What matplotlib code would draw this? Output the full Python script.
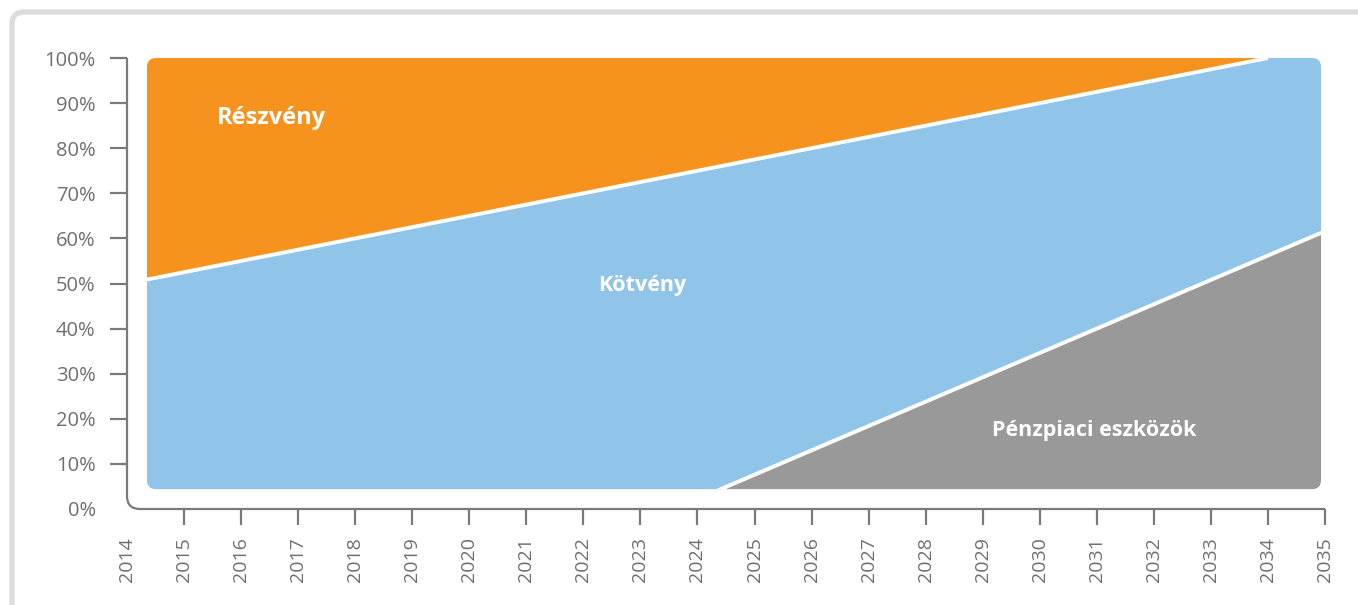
import numpy as np
import matplotlib
matplotlib.use("Agg")
import matplotlib.pyplot as plt
from matplotlib.patches import FancyBboxPatch, PathPatch
from matplotlib.path import Path
from matplotlib.transforms import IdentityTransform

# ============================ DATA ============================
years = np.arange(2014, 2036)
# share of each asset class (%)
reszveny = np.array([50, 47.5, 45, 42.5, 40, 37.5, 35, 32.5, 30, 27.5, 25,
                     22.5, 20, 17.5, 15, 12.5, 10, 7.5, 5, 2.5, 0, 0])
penzpiaci = np.array([0, 0, 0, 0, 0, 0, 0, 0, 0, 0, 2.2,
                      7.6, 13.0, 18.4, 23.8, 29.2, 34.6, 40.0, 45.4, 50.8, 56.2, 61.6])
kotveny = 100 - reszveny - penzpiaci

labels = ["Pénzpiaci eszközök", "Kötvény", "Részvény"]
colors = ["#999999", "#90c4e8", "#f5931e"]
label_pos = [(2030.96, 17.3), (2023.04, 49.6), (2016.54, 86.8)]
label_size = [15.5, 15.5, 17]

y_ticks = np.arange(0, 101, 10)
x_ticks = np.arange(2014, 2036)

# ============================ FIGURE ============================
W, H = 1358, 605
fig = plt.figure(figsize=(W / 100, H / 100), dpi=100)
ax = fig.add_axes([127 / W, (H - 509) / H, 1198 / W, 451 / H])
ax.set_xlim(2014, 2035)
ax.set_ylim(0, 100)

grey = "#7a7a7a"
font = "Open Sans"

# outer rounded frame
frame = FancyBboxPatch((12, -40), W + 40, H - 12 + 40,
                       boxstyle="round,pad=0,rounding_size=12",
                       transform=IdentityTransform(), fill=False,
                       ec="#dcdcdc", lw=3.8, clip_on=False)
fig.add_artist(frame)

# rounded clip box for the area (plot inset)
x0, x1, y0, y1 = 2014.35, 2034.93, 4.4, 100
rx = 9 / 57.05
ry = 9 / 4.515
clip_box = FancyBboxPatch((x0, y0), x1 - x0, y1 - y0,
                          boxstyle=f"round,pad=0,rounding_size={rx}",
                          mutation_aspect=ry / rx, transform=ax.transData)

polys = ax.stackplot(years, penzpiaci, kotveny, reszveny, colors=colors, lw=0)
for p in polys:
    p.set_clip_path(clip_box)

# white separator lines
b1 = penzpiaci
b2 = penzpiaci + kotveny
start = np.where(penzpiaci == 0)[0][-1]
stop = np.argmax(reszveny == 0) + 1
l1, = ax.plot(years[start:], b1[start:], color="white", lw=2.8, solid_capstyle="butt")
l2, = ax.plot(years[:stop], b2[:stop], color="white", lw=2.8, solid_capstyle="butt")
for l in (l1, l2):
    l.set_clip_path(clip_box)

for (x, y), t, fs in zip(label_pos, labels, label_size):
    ax.text(x, y, t, ha="center", va="center", color="white",
            fontsize=fs, fontweight="bold", family=font)

# ============================ AXES ============================
for s in ax.spines.values():
    s.set_visible(False)

xa, xb = ax.get_xlim()
ya, yb = ax.get_ylim()
cr_x = 13 / 57.05
cr_y = 13 / 4.515
verts = [(xa, yb), (xa, ya + cr_y), (xa, ya), (xa + cr_x, ya), (xb, ya)]
codes = [Path.MOVETO, Path.LINETO, Path.CURVE3, Path.CURVE3, Path.LINETO]
ax.add_patch(PathPatch(Path(verts, codes), fill=False, ec=grey, lw=1.6,
                       clip_on=False, capstyle="butt"))

ax.set_yticks(y_ticks)
ax.set_yticklabels([f"{v}%" for v in y_ticks])
ax.set_xticks(x_ticks)
ax.set_xticklabels([str(v) for v in x_ticks], rotation=90)
ax.tick_params(axis="y", length=12.5, width=1.6, color=grey, pad=10,
               labelsize=14.5, labelcolor="#6f6f6f")
ax.tick_params(axis="x", length=11.5, width=1.6, color=grey, pad=8.5,
               labelsize=14, labelcolor="#6f6f6f")
for lab in ax.get_xticklabels() + ax.get_yticklabels():
    lab.set_family(font)

# no tick marks at the rounded corner
ax.yaxis.get_major_ticks()[0].tick1line.set_visible(False)
ax.xaxis.get_major_ticks()[0].tick1line.set_visible(False)

fig.savefig("out.png", dpi=100)
